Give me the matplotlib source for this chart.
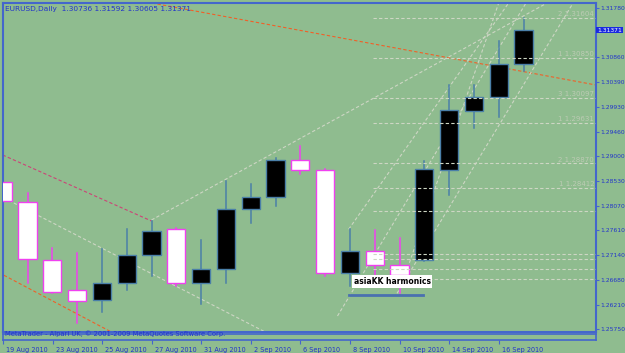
"""
EURUSD daily candles, MetaTrader style.
"""

import matplotlib
matplotlib.use('Agg')
import matplotlib.pyplot as plt
from matplotlib.patches import Rectangle

BG = '#8fbc8f'
FRAME = '#4466cc'
TXT = '#2233cc'
BULL_EDGE = '#4a7fa8'
BEAR_EDGE = '#f040f0'
LIGHT = '#cdd6c4'

dates = ['19 Aug', '20 Aug', '23 Aug', '24 Aug', '25 Aug', '26 Aug', '27 Aug',
         '30 Aug', '31 Aug', '1 Sep', '2 Sep', '3 Sep', '6 Sep', '7 Sep',
         '8 Sep', '9 Sep', '10 Sep', '13 Sep', '14 Sep', '15 Sep', '16 Sep',
         '17 Sep']
opens = [1.28517, 1.28147, 1.27046, 1.26483, 1.26306, 1.26625, 1.27146,
         1.27629, 1.26625, 1.26877, 1.28010, 1.28241, 1.28925, 1.28742,
         1.26813, 1.27221, 1.26964, 1.27046, 1.28742, 1.29851, 1.30114,
         1.30736]
highs = [1.29024, 1.28316, 1.27283, 1.27178, 1.27253, 1.27629, 1.27784,
         1.27653, 1.27427, 1.28541, 1.28474, 1.28962, 1.29193, 1.28760,
         1.27629, 1.27615, 1.27459, 1.28917, 1.30339, 1.30339, 1.31166,
         1.31592]
lows = [1.27690, 1.26614, 1.26432, 1.25863, 1.26069, 1.26488, 1.26751,
        1.26569, 1.26225, 1.26614, 1.27752, 1.28072, 1.28662, 1.26757,
        1.26569, 1.26732, 1.26426, 1.27030, 1.28273, 1.29537, 1.29744,
        1.30605]
closes = [1.28160, 1.27071, 1.26445, 1.26287, 1.26620, 1.27140, 1.27597,
          1.26614, 1.26883, 1.28015, 1.28230, 1.28930, 1.28742, 1.26813,
          1.27215, 1.26952, 1.26764, 1.28756, 1.29870, 1.30108, 1.30734,
          1.31371]

tick_bars = [0, 2, 4, 6, 8, 10, 12, 14, 16, 18, 20]
tick_text = ['19 Aug 2010', '23 Aug 2010', '25 Aug 2010', '27 Aug 2010',
             '31 Aug 2010', '2 Sep 2010', '6 Sep 2010', '8 Sep 2010',
             '10 Sep 2010', '14 Sep 2010', '16 Sep 2010']
price_ticks = [1.31780, 1.30860, 1.30390, 1.29930, 1.29460, 1.29000,
               1.28530, 1.28070, 1.27610, 1.27140, 1.26680, 1.26210, 1.25750]

# harmonic levels (label, price); empty label = no text
fib_levels = [('2 1.31604', 1.31604), ('1 1.30850', 1.30850),
              ('3 1.30097', 1.30097), ('1 1.29631', 1.29631),
              ('2 1.28870', 1.28870), ('1 1.28412', 1.28412),
              ('', 1.27972), ('', 1.27159), ('', 1.27067),
              ('', 1.26883), ('', 1.26695)]
fib_start = 14.93

# trend lines: (bar0, price0, bar1, price1, colour)
trend_lines = [
    (5.8, 1.31898, 24.5, 1.30290, '#f06028'),
    (0.0, 1.29024, 6.0, 1.27784, '#cc4477'),
    (-0.5, 1.26900, 4.5, 1.25670, '#f06028'),
    (-0.5, 1.28350, 11.0, 1.25600, LIGHT),
    (6.0, 1.27803, 21.95, 1.31880, LIGHT),
    (13.95, 1.27629, 20.4, 1.31880, LIGHT),
    (13.5, 1.26000, 21.1, 1.31880, LIGHT),
    (15.9, 1.26426, 23.0, 1.31880, LIGHT),
    (16.4, 1.27000, 20.0, 1.31880, LIGHT),
]

header = 'EURUSD,Daily  1.30736 1.31592 1.30605 1.31371'
label_text = 'asiaKK harmonics'

W, H = 625, 353
fig = plt.figure(figsize=(W / 100, H / 100), dpi=100, facecolor=BG)

ax = fig.add_axes([3 / W, (H - 332) / H, 593 / W, 329 / H], facecolor=BG)
bar_w = 24.8
ax.set_xlim((3 - 2.7) / bar_w, (596 - 2.7) / bar_w)
ax.set_ylim(1.25699, 1.31880)

# fib horizontal levels
for txt, p in fib_levels:
    ax.plot([fib_start, 24], [p, p], color=LIGHT, lw=0.8, ls=(0, (3, 2)), zorder=4)
    if txt:
        ax.text(23.85, p + 0.00012, txt, color='#bccbb4', fontsize=5,
                ha='right', va='bottom', zorder=4)

# trend lines
for x0, p0, x1, p1, col in trend_lines:
    ax.plot([x0, x1], [p0, p1], color=col, lw=0.8, ls=(0, (3, 2)), zorder=1)

# candles
for i in range(len(opens)):
    o, h, l, c = opens[i], highs[i], lows[i], closes[i]
    bull = c >= o
    ec = BULL_EDGE if bull else BEAR_EDGE
    fc = 'black' if bull else 'white'
    ax.plot([i, i], [l, h], color=ec, lw=1.1, zorder=2)
    ax.add_patch(Rectangle((i - 0.37, min(o, c)), 0.74, abs(c - o),
                           facecolor=fc, edgecolor=ec, lw=1.0, zorder=3))

# label under harmonic pattern
ax.text(14.15, 1.26650, label_text, fontsize=5.5, fontweight='bold', color='black',
        ha='left', va='center', zorder=5,
        bbox=dict(facecolor='white', edgecolor='none', pad=1.3))
ax.plot([13.95, 16.95], [1.26402, 1.26402], color='#4a70b0', lw=2, zorder=5)

ax.set_xticks([])
ax.yaxis.tick_right()
ax.set_yticks(price_ticks)
ax.set_yticklabels([f'{p:.5f}' for p in price_ticks])
ax.tick_params(axis='y', colors=FRAME, labelcolor=TXT, labelsize=4.3,
               length=2.5, width=0.8, pad=0.8)
for s in ax.spines.values():
    s.set_color(FRAME)
    s.set_linewidth(1.5)

ax.text(0.003, 0.992, header, transform=ax.transAxes, color=TXT, fontsize=5.3,
        ha='left', va='top')

# current price marker
ax.text(1.0015, closes[-1], f'{closes[-1]:.5f}', transform=ax.get_yaxis_transform(),
        color='white', fontsize=4.3, ha='left', va='center', zorder=6,
        bbox=dict(facecolor='#1a2ae0', edgecolor='none', pad=0.6))

# small bottom strip with date scale
ax2 = fig.add_axes([3 / W, (H - 340) / H, 593 / W, 6 / H], facecolor=BG)
ax2.set_xlim(ax.get_xlim())
ax2.set_yticks([])
ax2.set_xticks(tick_bars)
ax2.set_xticklabels([])
ax2.tick_params(axis='x', colors=FRAME, length=3, width=0.8)
for s in ax2.spines.values():
    s.set_color(FRAME)
    s.set_linewidth(1.2)
for b, t in zip(tick_bars, tick_text):
    ax2.text(b + 0.12, -1.2, t, transform=ax2.get_xaxis_transform(), color=TXT,
             fontsize=4.7, ha='left', va='top')

fig.text(5 / W, (H - 334) / H, 'MetaTrader - Alpari UK, \u00a9 2001-2009 MetaQuotes Software Corp.',
         color=TXT, fontsize=4.9, ha='left', va='center')

fig.savefig('out.png', dpi=100, facecolor=BG)
